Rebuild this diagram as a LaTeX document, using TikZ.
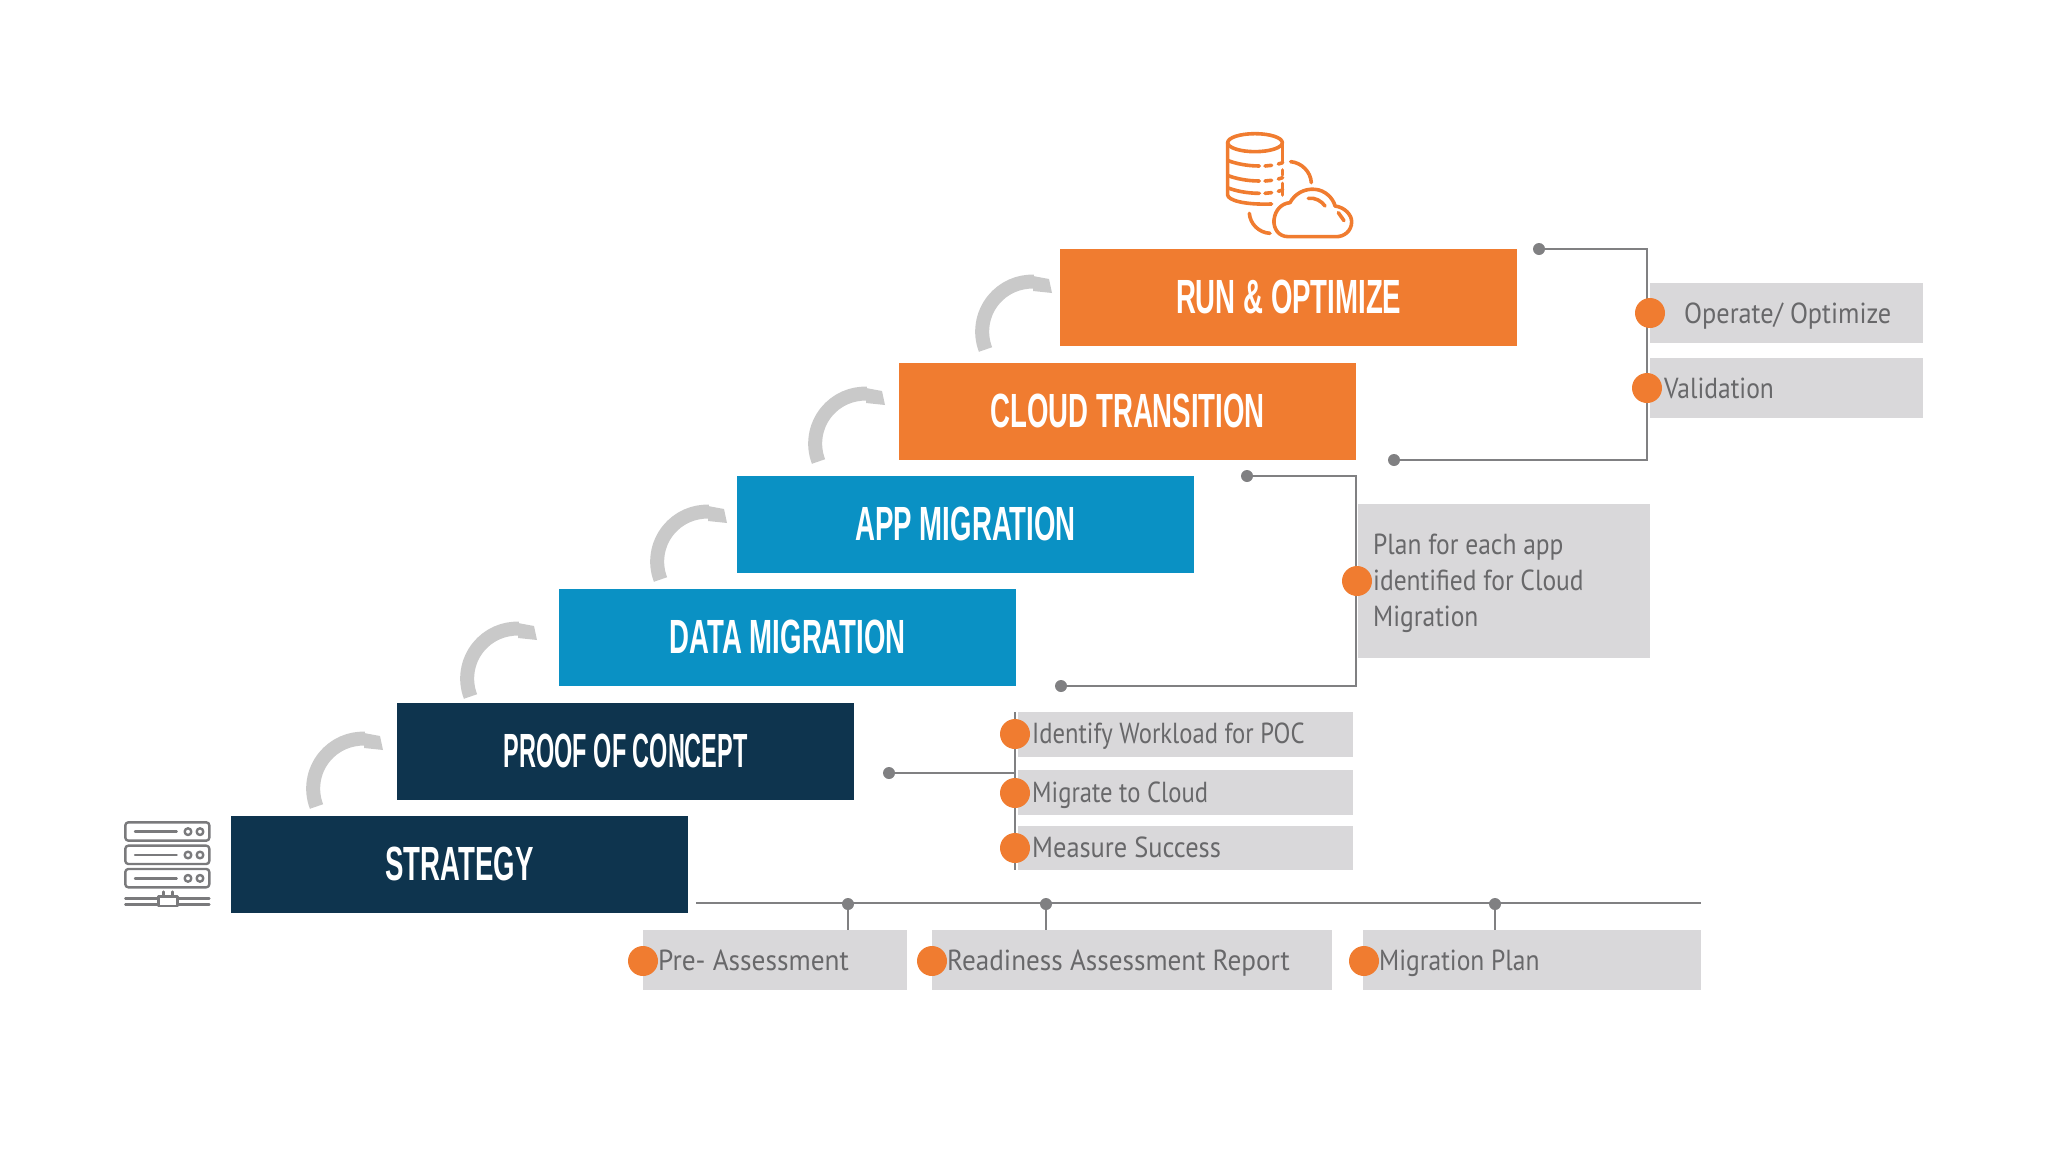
\documentclass[tikz,border=0pt]{standalone}
\usepackage{fontspec}
\setmainfont{PT Sans}
\newfontfamily\tierfont[FakeStretch=0.575]{Liberation Sans Bold}
\newfontfamily\notefont[FakeStretch=0.88]{PT Sans}
\definecolor{cOrange}{HTML}{F07C30}
\definecolor{cBlue}{HTML}{0A91C4}
\definecolor{cNavy}{HTML}{0E344E}
\definecolor{cBox}{HTML}{D9D8DA}
\definecolor{cLine}{HTML}{808082}
\definecolor{cText}{HTML}{68686A}
\definecolor{cArrow}{HTML}{C9C9C9}
\definecolor{cIcon}{HTML}{7A7A7C}
\tikzset{
  tier/.style={anchor=north west,minimum width=457pt,minimum height=97pt,inner sep=0pt,text=white,
    text height=34.5pt,text depth=3pt,
    font=\tierfont\fontsize{48}{50}\selectfont},
  notebox/.style={anchor=north west,fill=cBox,inner sep=0pt},
  notetext/.style={anchor=base west,inner sep=0pt,text=cText,font=\notefont\fontsize{29}{36}\selectfont,align=left},
  bullet/.style={circle,fill=cOrange,minimum size=30pt,inner sep=0pt},
  pin/.style={circle,fill=cLine,minimum size=12pt,inner sep=0pt},
  wire/.style={draw=cLine,line width=2.2pt},
  ico/.style={draw=cOrange,line width=3.6pt,line cap=round,line join=round},
  srv/.style={draw=cIcon,line width=2.4pt,line cap=round,line join=round},
  pics/swoop/.style={code={
    \draw[cArrow,line width=14pt] (25.5,109.5) arc[start angle=159,end angle=272,radius=50];
    \fill[cArrow] (73,36) -- (89,39) -- (92,53) -- (73,51) -- cycle;
  }}
}
\begin{document}
\begin{tikzpicture}[x=1pt,y=-1pt]
\useasboundingbox (0,0) rectangle (2048,1152);
% stairs
\node[tier,fill=cOrange] (run) at (1060,249) {RUN \& OPTIMIZE};
\node[tier,fill=cOrange] (cloud) at (899,363) {CLOUD TRANSITION};
\node[tier,fill=cBlue] (app) at (737,476) {APP MIGRATION};
\node[tier,fill=cBlue] (data) at (559,589) {DATA MIGRATION};
\node[tier,fill=cNavy] (poc) at (397,703) {\scalebox{0.85}[1]{PROOF OF CONCEPT}};
\node[tier,fill=cNavy] (strategy) at (231,816) {STRATEGY};
% swoop arrows
\pic at (960,240) {swoop};
\pic at (793,352) {swoop};
\pic at (635,470) {swoop};
\pic at (445,587) {swoop};
\pic at (291,697) {swoop};
% note boxes
\node[notebox,minimum width=273pt,minimum height=60pt] (opbox) at (1650,283) {};
\node[notebox,minimum width=273pt,minimum height=60pt] (valbox) at (1650,358) {};
\node[notebox,minimum width=292pt,minimum height=154pt] (planbox) at (1358,504) {};
\node[notebox,minimum width=335pt,minimum height=45pt] (idbox) at (1018,712) {};
\node[notebox,minimum width=335pt,minimum height=45pt] (migbox) at (1018,770) {};
\node[notebox,minimum width=335pt,minimum height=44pt] (meabox) at (1018,826) {};
\node[notebox,minimum width=264pt,minimum height=60pt] (prebox) at (643,930) {};
\node[notebox,minimum width=400pt,minimum height=60pt] (readbox) at (932,930) {};
\node[notebox,minimum width=338pt,minimum height=60pt] (planmbox) at (1363,930) {};
% wires and pins
\node[pin] (p1) at (1539,249) {};
\node[pin] (p2) at (1394,460) {};
\coordinate (c1) at (1647,249);
\coordinate (c2) at (1647,460);
\draw[wire] (p1) -- (c1) -- (c2) -- (p2);
\node[pin] (p3) at (1247,476) {};
\node[pin] (p4) at (1061,686) {};
\coordinate (c3) at (1356,476);
\coordinate (c4) at (1356,686);
\draw[wire] (p3) -- (c3) -- (c4) -- (p4);
\node[pin] (p5) at (889,773) {};
\coordinate (c5) at (1015,773);
\coordinate (c6) at (1015,712);
\coordinate (c7) at (1015,870);
\draw[wire] (p5) -- (c5);
\draw[wire] (c6) -- (c7);
\coordinate (bl) at (696,903);
\coordinate (br) at (1701,903);
\draw[wire] (bl) -- (br);
\node[pin] (p6) at (848,904) {};
\node[pin] (p7) at (1046,904) {};
\node[pin] (p8) at (1495,904) {};
\draw[wire] (p6) -- (p6 |- prebox.north);
\draw[wire] (p7) -- (p7 |- readbox.north);
\draw[wire] (p8) -- (p8 |- planmbox.north);
% bullets
\node[bullet] (b1) at (1650,313) {};
\node[bullet] (b2) at (1647,388) {};
\node[bullet] (b3) at (1357,581) {};
\node[bullet] (b4) at (1015,734) {};
\node[bullet] (b5) at (1015,793) {};
\node[bullet] (b6) at (1015,848) {};
\node[bullet] (b7) at (643,961) {};
\node[bullet] (b8) at (932,961) {};
\node[bullet] (b9) at (1364,961) {};
% texts
\node[notetext] (t1) at (1684,323) {\scalebox{1.03}[1]{Operate/ Optimize}};
\node[notetext] (t2) at (1664,398) {Validation};
\node[notetext,anchor=west] (t3) at (1373,583) {Plan for each app\\identified for Cloud\\Migration};
\node[notetext] (t4) at (1032,743) {\scalebox{0.965}[1]{Identify Workload for POC}};
\node[notetext] (t5) at (1032,802) {\scalebox{0.965}[1]{Migrate to Cloud}};
\node[notetext] (t6) at (1032,857) {\scalebox{1.035}[1]{Measure Success}};
\node[notetext] (t7) at (658,970) {\scalebox{1.07}[1]{Pre- Assessment}};
\node[notetext] (t8) at (947,970) {\scalebox{1.065}[1]{Readiness Assessment Report}};
\node[notetext] (t9) at (1379,970) {Migration Plan};
% database + cloud icon
\begin{scope}[shift={(1200,120)},x=0.3333pt,y=-0.3333pt]
\draw[ico] (165,68) ellipse (82 and 27);
\draw[ico] (83,68) -- (83,225) .. controls (84,240) and (130,255) .. (215,252);
\draw[ico] (248,68) -- (248,125);
\draw[ico] (248,150) -- (248,165);
\draw[ico] (248,190) -- (248,225);
\foreach \yy in {130,175,212}{
  \draw[ico] (85,\yy-8) .. controls (105,\yy) and (140,\yy+8) .. (178,\yy+8);
  \draw[ico] (195,\yy+8) -- (215,\yy+6);
  \draw[ico] (235,\yy+2) -- (248,\yy-2);
}
\draw[ico] (272,125) .. controls (305,128) and (332,155) .. (334,188);
\draw[ico] (148,280) .. controls (150,310) and (175,338) .. (210,340);
\draw[ico] (265,350) .. controls (235,350) and (220,325) .. (222,300)
  .. controls (225,270) and (245,250) .. (270,248)
  .. controls (285,220) and (315,205) .. (345,208)
  .. controls (375,210) and (400,235) .. (405,258)
  .. controls (435,262) and (455,285) .. (455,305)
  .. controls (455,335) and (430,350) .. (410,350) -- cycle;
\draw[ico] (325,235) .. controls (345,232) and (365,243) .. (375,258);
\draw[ico] (415,278) -- (432,302);
\end{scope}
% server icon
\begin{scope}[shift={(110,720)},x=0.3333pt,y=-0.3333pt]
\foreach \yy in {307,377,447}{
  \draw[srv,rounded corners=3pt] (46,\yy) rectangle (298,\yy+55);
  \draw[srv] (75,\yy+28) -- (200,\yy+28);
  \draw[srv] (234,\yy+28) circle (10);
  \draw[srv] (270,\yy+28) circle (10);
}
\draw[srv] (46,535) -- (145,535) (46,553) -- (145,553);
\draw[srv] (202,535) -- (298,535) (202,553) -- (298,553);
\draw[srv] (145,530) rectangle (202,558);
\draw[srv] (160,515) -- (160,530) (188,515) -- (188,530);
\end{scope}
\end{tikzpicture}
\end{document}
